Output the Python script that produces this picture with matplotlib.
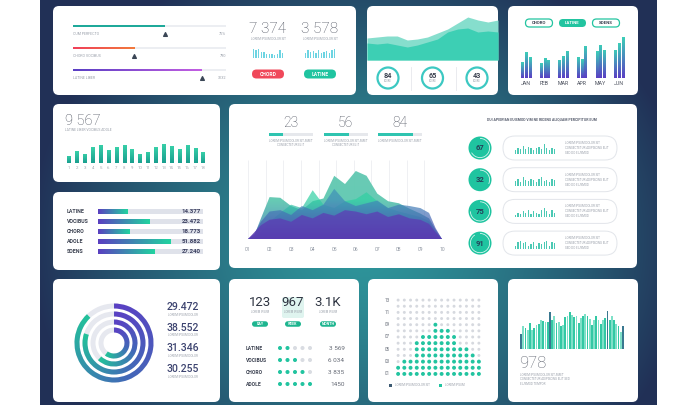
import matplotlib
matplotlib.use("Agg")
import matplotlib.pyplot as plt
import numpy as np
from matplotlib.colors import LinearSegmentedColormap
from matplotlib.patches import Circle, FancyBboxPatch, Rectangle, Wedge

W, H = 680, 409
FONT = "Roboto"
TEXT = "#3b4150"
MUTED = "#9aa0aa"
TEAL = "#22c4a0"
LOREM = "LOREM IPSUM DOLOR SIT AMET CONSECTETUR"

# ---- data -----------------------------------------------------------------
P1_LABELS = ["CUM PERFECTO", "CHORO VOCIBUS", "LATINE LIBER"]
P1_FILL = [0.60, 0.40, 0.84]
P1_RIGHT = ["75%", "790", "3132"]
P1_TOTALS = ["7 374", "3 578"]
P1_MINI_A = [9, 8, 9, 6, 6, 4, 4, 4, 3, 4, 8, 5]
P1_MINI_B = [5, 8, 6, 7, 5, 8, 5, 6, 7, 5, 8, 9]
P1_BUTTONS = ["CHORD", "LATINE"]

P2_BACK = [22, 23, 24, 24, 20, 21, 23, 27, 31, 37, 43, 40, 38, 40]
P2_FRONT = [17, 16, 17, 15, 13, 15, 18, 21, 28, 31, 32, 28, 29, 28]
P2_SCORES = ["84", "65", "43"]

P3_PILLS = ["CHORO", "LATINE", "SOENS"]
P3_MONTHS = ["JAN", "FEB", "MAR", "APR", "MAY", "JUN"]
P3_A = [47, 45, 55, 62, 80, 85]
P3_B = [77, 60, 67, 57, 100, 105]
P3_C = [62, 55, 82, 97, 85, 122]

P4_TOTAL = "9 567"
P4_BARS = [23, 37, 29, 49, 57, 41, 49, 57, 43, 29, 35, 49, 59, 53, 43, 57, 47, 33]

P5_LABELS = ["LATINE", "VOCIBUS", "CHORO", "ADOLE", "SOENS"]
P5_FILL = [0.28, 0.49, 0.30, 0.69, 0.54]
P5_VALUES = ["14.377", "23.472", "18.773", "51.882", "27.240"]

P6_KPIS = ["23", "56", "84"]
P6_KPI_FILL = [0.32, 0.59, 0.80]
P6_X = [0, 0.3, 0.6, 1.0, 1.5, 2.0, 2.5, 3.0, 3.5, 4.0, 4.5,
        5.0, 5.5, 6.0, 6.5, 7.0, 7.5, 8.0, 8.4, 8.7, 9.0]
P6_BACK = [0, 6, 30, 61, 60, 48, 42, 55, 59, 92, 80, 99, 92, 66, 55, 52, 44, 37, 30, 14, 0]
P6_GREEN = [0, 3, 10, 25, 38, 50, 45, 71, 50, 45, 55, 58, 68, 55, 45, 40, 36, 32, 26, 10, 0]
P6_BLUE = [0, 8, 25, 40, 42, 35, 48, 42, 50, 73, 55, 48, 52, 56, 45, 50, 48, 45, 38, 16, 0]
P6_PURPLE = [0, 10, 20, 28, 30, 25, 35, 30, 38, 34, 42, 40, 36, 40, 32, 36, 30, 28, 22, 10, 0]
P6_TICKS = ["01", "02", "03", "04", "05", "06", "07", "08", "09", "10"]
P6_SCORES = ["67", "32", "75", "91"]
P6_SCORE_FRAC = [0.67, 0.32, 0.75, 0.91]
P6_SPARKS = [
    [3, 5, 4, 7, 4, 6, 5, 3, 5, 6, 4, 8, 5, 3, 5, 4],
    [4, 6, 3, 7, 5, 4, 6, 5, 3, 6, 7, 4, 5, 3, 6, 5],
    [2, 4, 3, 5, 4, 6, 3, 5, 4, 3, 6, 8, 5, 3, 6, 4],
    [3, 6, 7, 5, 6, 3, 4, 6, 3, 5, 4, 6, 7, 3, 6, 5],
]

P7_VALUES = ["29.472", "38.552", "31.346", "30.255"]
P7_FRAC = [0.88, 0.80, 0.62, 0.60]

P8_TOTALS = ["123", "967", "3.1K"]
P8_PERIODS = ["DAY", "WEEK", "MONTH"]
P8_LABELS = ["LATINE", "VOCIBUS", "CHORO", "ADOLE"]
P8_DOTS = [2, 3, 4, 5]
P8_VALUES = ["3 569", "6 034", "3 835", "1450"]

P9_COLUMNS = [2, 3, 3, 6, 7, 7, 9, 8, 8, 7, 5, 5, 4, 3]
P9_ROWS = 13
P9_YLABELS = ["01", "03", "05", "07", "09", "11", "13"]

P10_BARS = [46, 68, 62, 58, 78, 56, 62, 73, 76, 88, 83, 80, 82, 110, 86, 98,
            78, 82, 68, 73, 96, 100, 110, 103, 96, 98, 78, 93, 100, 106, 98, 90,
            73, 88, 100, 88, 76, 86, 93, 113, 86, 100, 86, 76, 70, 52, 68]
P10_TOTAL = "978"

PANELS = [
    (53, 6, 356, 95), (367, 6, 498, 95), (508, 6, 638, 95),
    (53, 104, 220, 182), (53, 192, 220, 270), (229, 104, 637, 268),
    (53, 279, 220, 402), (229, 279, 359, 402), (368, 279, 498, 402),
    (508, 279, 638, 402),
]

plt.rcParams["font.family"] = [FONT, "DejaVu Sans"]


def cmap2(*colors):
    return LinearSegmentedColormap.from_list("", list(colors))


def px_axes(fig, x0, y0, x1, y1):
    ax = fig.add_axes([x0 / W, 1 - y1 / H, (x1 - x0) / W, (y1 - y0) / H])
    ax.set_facecolor("none")
    ax.axis("off")
    return ax


def gradient_bars(ax, bars, cmap, horizontal=False):
    grad = np.linspace(0, 1, 64)
    grad = grad.reshape(1, -1) if horizontal else grad.reshape(-1, 1)
    for b in bars:
        x, y, w, h = b.get_x(), b.get_y(), b.get_width(), b.get_height()
        b.set_facecolor("none")
        im = ax.imshow(grad, extent=[x, x + w, y, y + h], origin="lower",
                       aspect="auto", cmap=cmap, zorder=3)
        im.set_clip_path(b)


def gradient_layer(ax, x, y, cmap, alpha, ymax):
    poly = ax.fill_between(x, 0, y, facecolor="none", edgecolor="none")
    grad = np.linspace(0, 1, 256).reshape(-1, 1)
    im = ax.imshow(grad, extent=[x[0], x[-1], 0, ymax], origin="lower",
                   aspect="auto", cmap=cmap, alpha=alpha, zorder=2)
    im.set_clip_path(poly.get_paths()[0], transform=ax.transData)


def pill(base, cx, cy, w, h, label, fc, ec=None, tc="white", size=3.6):
    base.add_patch(FancyBboxPatch((cx - w / 2, cy - h / 2), w, h,
                                  boxstyle=f"round,pad=0,rounding_size={h / 2}",
                                  fc=fc, ec=ec or "none", lw=0.9))
    base.text(cx, cy, label, ha="center", va="center", fontsize=size,
              color=tc, fontweight="bold")


def tiny(base, x, y, s=LOREM, ha="left", size=2.4):
    base.text(x, y, s, ha=ha, va="center", fontsize=size, color=MUTED)


def draw_background(base):
    ys, xs = np.mgrid[0:405, 40:657]
    d = np.sqrt(((xs - 360) / 330.0) ** 2 + ((ys - 240) / 300.0) ** 2)
    t = (np.clip(d, 0, 1) ** 1.4)[..., None]
    c0 = np.array([0.18, 0.59, 0.61])
    c1 = np.array([0.13, 0.19, 0.34])
    base.imshow(c0 * (1 - t) + c1 * t, extent=[40, 657, 405, 0], aspect="auto")
    for x0, y0, x1, y1 in PANELS:
        base.add_patch(FancyBboxPatch((x0, y0), x1 - x0, y1 - y0,
                                      boxstyle="round,pad=0,rounding_size=6",
                                      fc="white", ec="none"))


def panel_progress(fig, base):
    ax = px_axes(fig, 73, 15, 226, 81)
    ax.barh(range(3), [1] * 3, height=0.13, color="#eceef2")
    fills = ax.barh(range(3), P1_FILL, height=0.13)
    fills[0].set_facecolor("#1fa99a")
    gradient_bars(ax, [fills[1]], cmap2("#f0405a", "#f27a3c"), horizontal=True)
    gradient_bars(ax, [fills[2]], cmap2("#5a3fc4", "#c35ee2"), horizontal=True)
    ax.scatter(P1_FILL, [i + 0.37 for i in range(3)], marker="^", s=7,
               color="#3b4656", zorder=4)
    for i, (lab, val) in enumerate(zip(P1_LABELS, P1_RIGHT)):
        ax.text(0, i + 0.37, lab, fontsize=2.6, color=MUTED, va="center")
        ax.text(1, i + 0.37, val, fontsize=2.8, color=MUTED, va="center", ha="right")
    ax.set_xlim(0, 1)
    ax.set_ylim(2.5, -0.5)

    for cx, total, mini, label, fc in zip([268, 320], P1_TOTALS,
                                          [P1_MINI_A, P1_MINI_B], P1_BUTTONS,
                                          ["#f0485a", "#1fc4a0"]):
        base.text(cx, 29, total, ha="center", va="center", fontsize=11,
                  color="#4a4f5c", fontweight="light")
        tiny(base, cx, 38.5, "LOREM IPSUM DOLOR SIT", ha="center", size=2.2)
        mx = px_axes(fig, cx - 16, 48, cx + 16, 58)
        mx.bar(range(len(mini)), mini, width=0.62, color="#6dd4e2")
        mx.set_xlim(-0.5, len(mini) - 0.5)
        mx.set_ylim(0, 10)
        pill(base, cx, 74, 32, 9, label, fc)


def panel_area_scores(fig, base):
    ax = px_axes(fig, 367, 6, 498, 60)
    x = range(len(P2_BACK))
    ax.fill_between(x, 0, P2_BACK, color="#86decd", lw=0)
    ax.fill_between(x, 0, P2_FRONT, color="#3dcfb4", lw=0)
    ax.set_xlim(0, len(P2_BACK) - 1)
    ax.set_ylim(0, 54)
    for i, s in enumerate(P2_SCORES):
        cx = 388 + 44.5 * i
        base.add_patch(Circle((cx, 78), 10.5, fc="white", ec="#3cc8c2", lw=1.6))
        base.text(cx, 76.5, s, ha="center", va="center", fontsize=5.2,
                  color=TEXT, fontweight="bold")
        base.text(cx, 81.5, "SCORE", ha="center", va="center", fontsize=1.8,
                  color=MUTED)
    for xd in (411, 456):
        base.plot([xd, xd], [67, 90], color="#e6e8ec", lw=0.6)


def panel_grouped(fig, base):
    for i, lab in enumerate(P3_PILLS):
        cx = 539 + 33.5 * i
        if i == 1:
            pill(base, cx, 23, 27, 8, lab, TEAL, size=3.2)
        else:
            pill(base, cx, 23, 27, 8, lab, "white", ec=TEAL, tc=TEXT, size=3.2)
    ax = px_axes(fig, 516.7, 36, 628.3, 78)
    ax.axis("on")
    for sp in ax.spines.values():
        sp.set_visible(False)
    ax.tick_params(length=0, labelsize=3.8, labelcolor="#4a4f5c", pad=2)
    ax.set_yticks([])
    cmap = cmap2("#5a3fc4", "#3ccfb8")
    for off, vals in zip([-0.2, 0, 0.2], [P3_A, P3_B, P3_C]):
        bars = ax.bar(np.arange(6) + off, vals, width=0.11)
        gradient_bars(ax, bars, cmap)
    ax.set_xticks(range(6), P3_MONTHS)
    ax.set_xlim(-0.5, 5.5)
    ax.set_ylim(0, 126)


def panel_columns(fig, base):
    base.text(65, 121, P4_TOTAL, ha="left", va="center", fontsize=10.5,
              color="#4a4f5c", fontweight="light")
    tiny(base, 65, 130, "LATINE LIBER VOCIBUS ADOLE")
    ax = px_axes(fig, 65, 143, 207, 163)
    ax.axis("on")
    for sp in ax.spines.values():
        sp.set_visible(False)
    ax.tick_params(length=0, labelsize=3.2, labelcolor="#a4a9b2", pad=2)
    ax.set_yticks([])
    bars = ax.bar(range(len(P4_BARS)), P4_BARS, width=0.42)
    gradient_bars(ax, bars, cmap2("#1a9e8f", "#38d1a9"))
    ax.set_xticks(range(len(P4_BARS)), [str(i + 1) for i in range(len(P4_BARS))])
    ax.set_xlim(-0.5, len(P4_BARS) - 0.5)
    ax.set_ylim(0, 62)


def panel_hbars(fig, base):
    ax = px_axes(fig, 98, 207, 203, 257)
    n = len(P5_LABELS)
    ax.barh(range(n), [1] * n, height=0.5, color="#dfe2ea")
    bars = ax.barh(range(n), P5_FILL, height=0.5)
    gradient_bars(ax, bars, cmap2("#5a3fc0", "#22d3a0"), horizontal=True)
    for i, (lab, val) in enumerate(zip(P5_LABELS, P5_VALUES)):
        ax.text(-0.295, i, lab, ha="left", va="center", fontsize=3.8,
                color=TEXT, fontweight="bold")
        ax.text(0.98, i, val, ha="right", va="center", fontsize=4.4,
                color="#3c4060", fontweight="bold", zorder=5)
    ax.set_xlim(0, 1)
    ax.set_ylim(n - 0.5, -0.5)


def panel_main(fig, base):
    for i, (kpi, frac) in enumerate(zip(P6_KPIS, P6_KPI_FILL)):
        x0 = 269 + 54.5 * i
        base.text(x0 + 22, 123, kpi, ha="center", va="center", fontsize=10,
                  color="#4a4f5c", fontweight="light")
        kx = px_axes(fig, x0, 133, x0 + 44, 135.5)
        kx.barh(0, 1, height=1, color="#e6e8ec")
        kx.barh(0, frac, height=1, color="#2fc4b0")
        kx.set_xlim(0, 1)
        kx.set_ylim(-0.5, 0.5)
        tiny(base, x0 + 22, 141, "LOREM IPSUM DOLOR SIT AMET", ha="center", size=2.2)
        if i < 2:
            tiny(base, x0 + 22, 145, "CONSECTETUR ELIT", ha="center", size=2.2)

    ax = px_axes(fig, 248, 160, 442, 239)
    ax.axis("on")
    for sp in ax.spines.values():
        sp.set_visible(False)
    ax.vlines(np.linspace(0, 9, 12), 0, 115, color="#eceef1", lw=0.6, zorder=0)
    ymax = 115
    gradient_layer(ax, P6_X, P6_BACK, cmap2("#5a86c2", "#5fc9b0", "#62c8b2"), 0.95, ymax)
    gradient_layer(ax, P6_X, P6_GREEN, cmap2("#3f6fb8", "#2fd0a2", "#2fd0a2"), 0.7, ymax)
    gradient_layer(ax, P6_X, P6_BLUE, cmap2("#5240b2", "#3f8cb8", "#3fa6b8"), 0.7, ymax)
    gradient_layer(ax, P6_X, P6_PURPLE, cmap2("#5a3ab0", "#5b4cb8", "#5b5cc0"), 0.85, ymax)
    ax.tick_params(length=0, labelsize=3.6, labelcolor="#8f96a2", pad=6)
    ax.set_yticks([])
    ax.set_xticks(range(10), P6_TICKS)
    ax.set_xlim(0, 9)
    ax.set_ylim(0, ymax)

    base.text(542, 120, "DUI APEIRIAN EUISMOD VIM NE RIDENS ALIQUAM PERCIPITUR EUM",
              ha="center", va="center", fontsize=2.5, color="#5a6070",
              fontweight="bold")
    for i, (s, frac, spark) in enumerate(zip(P6_SCORES, P6_SCORE_FRAC, P6_SPARKS)):
        cy = 148 + 31.7 * i
        base.add_patch(FancyBboxPatch((503, cy - 12), 114, 24,
                                      boxstyle="round,pad=0,rounding_size=12",
                                      fc="white", ec="#e2e5ea", lw=0.7))
        base.add_patch(Circle((480, cy), 11.5, fc="#1fc4a0", ec="none"))
        base.add_patch(Wedge((480, cy), 10, -90, -90 + 360 * frac, width=0.8,
                             fc="white", ec="none", alpha=0.85))
        base.text(480, cy, s, ha="center", va="center", fontsize=5.5,
                  color="#24415a", fontweight="bold")
        sx = px_axes(fig, 514, cy - 6, 556, cy + 6)
        sx.bar(range(len(spark)), spark, width=0.45, color="#4cc9b4")
        sx.set_xlim(-0.5, len(spark) - 0.5)
        sx.set_ylim(0, 10)
        tiny(base, 565, cy - 5, "LOREM IPSUM DOLOR SIT", size=2.2)
        tiny(base, 565, cy, "CONSECTETUR ADIPISCING ELIT", size=2.2)
        tiny(base, 565, cy + 5, "SED DO EIUSMOD", size=2.2)


def panel_rings(fig, base):
    ax = px_axes(fig, 74, 303, 154, 383)
    g = np.linspace(-40, 40, 400)
    xx, yy = np.meshgrid(g, g)
    cw = (90 - np.degrees(np.arctan2(yy, xx))) % 360
    cmap = cmap2("#5b3fc4", "#4368b8", "#22c39a")
    for r, frac in zip([37, 29, 21, 13], P7_FRAC):
        ax.add_patch(Wedge((0, 0), r + 2.5, 0, 360, width=5, fc="#e6e8ef",
                           ec="none", zorder=1))
        sweep = frac * 360
        arc = Wedge((0, 0), r + 2.5, 90 - sweep, 90, width=5, fc="none",
                    ec="none", zorder=1)
        ax.add_patch(arc)
        im = ax.imshow(np.clip(cw / sweep, 0, 1), extent=[-40, 40, -40, 40],
                       origin="lower", cmap=cmap, vmin=0, vmax=1, zorder=2)
        im.set_clip_path(arc)
    ax.set_xlim(-40, 40)
    ax.set_ylim(-40, 40)
    for i, v in enumerate(P7_VALUES):
        y = 307 + 20.7 * i
        base.text(167, y, v, ha="left", va="center", fontsize=7.5,
                  color="#3d4470", fontweight="medium")
        tiny(base, 168, y + 7.5, "LOREM IPSUM DOLOR", size=2.2)


def panel_dots(fig, base):
    base.add_patch(FancyBboxPatch((282, 297), 22, 21, boxstyle="round,pad=0,rounding_size=2",
                                  fc="#dff4ef", ec="none"))
    for i, (tot, per) in enumerate(zip(P8_TOTALS, P8_PERIODS)):
        cx = [260, 293, 328][i]
        base.text(cx, 303, tot, ha="center", va="center", fontsize=9.5,
                  color="#2f3542")
        tiny(base, cx, 312, "LOREM IPSUM", ha="center", size=2.0)
        pill(base, cx, 324, 16, 5.5, per, "#1db58f", size=2.6)
    ax = px_axes(fig, 276.25, 342, 313.75, 390)
    for row, n in enumerate(P8_DOTS):
        cols = np.arange(5)
        ax.scatter(cols, [row] * 5, s=8.5, lw=0,
                   color=[TEAL if c < n else "#d9dce2" for c in cols])
        ax.text(-4.6, row, P8_LABELS[row], ha="left", va="center", fontsize=3.6,
                color=TEXT, fontweight="bold")
        ax.text(8.6, row, P8_VALUES[row], ha="right", va="center", fontsize=4.6,
                color="#666b76")
    ax.set_xlim(-0.5, 4.5)
    ax.set_ylim(3.5, -0.5)


def panel_matrix(fig, base):
    ax = px_axes(fig, 395, 297, 482, 377)
    for col, n in enumerate(P9_COLUMNS):
        rows = np.arange(P9_ROWS)
        ax.scatter([col] * P9_ROWS, rows, s=[8 if r < n else 4.5 for r in rows],
                   lw=0, color=[TEAL if r < n else "#d6d9df" for r in rows])
    for k, lab in enumerate(P9_YLABELS):
        ax.text(-1.7, 2 * k, lab, ha="center", va="center", fontsize=3.3,
                color="#6b717c")
    ax.set_xlim(-0.5, len(P9_COLUMNS) - 0.5)
    ax.set_ylim(-0.5, P9_ROWS - 0.5)
    base.add_patch(Rectangle((389, 383.5), 3, 3, fc="#3d5a72", ec="none"))
    tiny(base, 395, 385, "LOREM IPSUM DOLOR SIT", size=2.2)
    base.add_patch(Rectangle((439, 383.5), 3, 3, fc=TEAL, ec="none"))
    tiny(base, 445, 385, "LOREM IPSUM", size=2.2)


def panel_spark(fig, base):
    ax = px_axes(fig, 520, 309, 624, 349)
    palette = ["#33c8a4", "#7fe0c8"]
    colors = [palette[i % 2] for i in range(len(P10_BARS))]
    for i in (0, 13, 39, 46):
        colors[i] = "#3a7890"
    ax.bar(range(len(P10_BARS)), P10_BARS, width=0.8, color=colors)
    ax.set_xlim(-0.5, len(P10_BARS) - 0.5)
    ax.set_ylim(0, 120)
    base.text(519, 363, P10_TOTAL, ha="left", va="center", fontsize=12,
              color="#5f6470", fontweight="light")
    tiny(base, 520, 375, "LOREM IPSUM DOLOR SIT AMET", size=2.2)
    tiny(base, 520, 379.5, "CONSECTETUR ADIPISCING ELIT SED", size=2.2)
    tiny(base, 520, 384, "EIUSMOD TEMPOR", size=2.2)


def main():
    fig = plt.figure(figsize=(W / 100, H / 100), dpi=100)
    base = fig.add_axes([0, 0, 1, 1])
    base.axis("off")
    draw_background(base)
    panel_progress(fig, base)
    panel_area_scores(fig, base)
    panel_grouped(fig, base)
    panel_columns(fig, base)
    panel_hbars(fig, base)
    panel_main(fig, base)
    panel_rings(fig, base)
    panel_dots(fig, base)
    panel_matrix(fig, base)
    panel_spark(fig, base)
    base.set_xlim(0, W)
    base.set_ylim(H, 0)
    fig.savefig("out.png", dpi=100)


main()
